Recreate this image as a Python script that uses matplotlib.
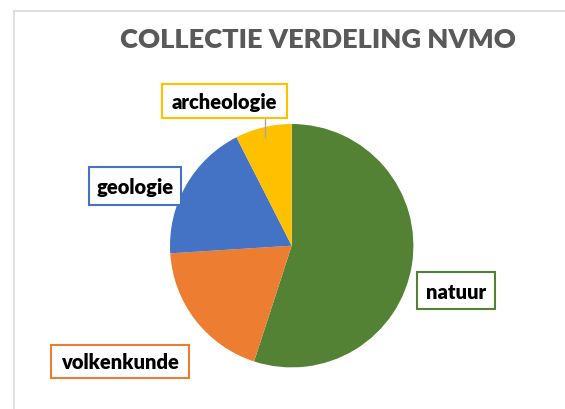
import matplotlib
matplotlib.use('Agg')
import matplotlib.pyplot as plt
from matplotlib.lines import Line2D
from matplotlib.patches import Rectangle

# data (clockwise from 12 o'clock)
categories = ['natuur', 'volkenkunde', 'geologie', 'archeologie']
values = [55.0, 19.0, 18.5, 7.5]
colors = ['#548235', '#ED7D31', '#4472C4', '#FFC000']

plt.rcParams['font.family'] = ['Lato', 'DejaVu Sans']

W, H = 565, 410
fig = plt.figure(figsize=(W / 100, H / 100), dpi=100)

# chart frame (light grey border, runs off right and bottom)
fig.add_artist(Line2D([13.7 / W, 1.0], [1 - 12 / H, 1 - 12 / H], color='#D9D9D9', lw=1.2, transform=fig.transFigure))
fig.add_artist(Line2D([13.7 / W, 13.7 / W], [0.0, 1 - 12 / H], color='#D9D9D9', lw=1.2, transform=fig.transFigure))

# pie axes, centre ~ (291.7, 246.7) px, radius ~121.7 px
cx, cy, r = 291.7, 246.7, 121.7
ax = fig.add_axes([(cx - r) / W, (H - cy - r) / H, 2 * r / W, 2 * r / H])
ax.pie(values, colors=colors, startangle=90, counterclock=False,
       wedgeprops=dict(linewidth=0))
ax.set_xlim(-1, 1)
ax.set_ylim(-1, 1)
ax.set_aspect('equal')
ax.axis('off')

fig.text(317.6 / W, 1 - 39.5 / H, 'COLLECTIE VERDELING NVMO', ha='center', va='center',
         fontsize=19.6, fontweight='heavy', color='#595959')

# label boxes in pixels: (left, top, right, bottom)
label_boxes = [(417.3, 272.8, 494.8, 310.3), (51.2, 346, 189.2, 378.7),
               (89, 167.6, 181.3, 205.8), (161.8, 84.7, 287.2, 118.9)]
for name, col, (x0, y0, x1, y1) in zip(categories, colors, label_boxes):
    fig.add_artist(Rectangle((x0 / W, 1 - y1 / H), (x1 - x0) / W, (y1 - y0) / H,
                             facecolor='white', edgecolor=col, linewidth=1.5,
                             transform=fig.transFigure, zorder=3))
    fig.text((x0 + x1) / 2 / W, 1 - ((y0 + y1) / 2 + 0.5) / H, name, ha='center', va='center',
             fontsize=14.5, fontweight='heavy', color='black', zorder=4)

# leader line for archeologie
fig.add_artist(Line2D([264.9 / W, 264.9 / W], [1 - 119.5 / H, 1 - 138 / H], color='#A6A6A6', lw=1.0,
                      transform=fig.transFigure))

fig.savefig('out.png', dpi=100)
